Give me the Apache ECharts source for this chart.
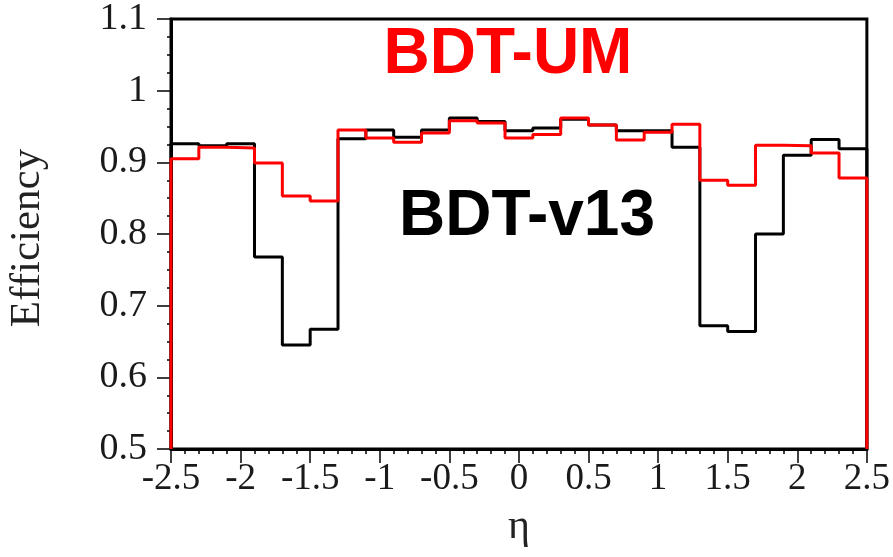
<!DOCTYPE html>
<html>
<head>
<meta charset="utf-8">
<script src="https://cdn.jsdelivr.net/npm/echarts@6/dist/echarts.min.js"></script>
<style>
  html, body { margin: 0; padding: 0; background: #fff; }
  #chart { width: 893px; height: 557px; }
</style>
</head>
<body>
<div id="chart"></div>
<script>
// Bin edges in eta (25 bins of width 0.2)
const etaEdges = [-2.5, -2.3, -2.1, -1.9, -1.7, -1.5, -1.3, -1.1, -0.9, -0.7, -0.5, -0.3, -0.1,
                  0.1, 0.3, 0.5, 0.7, 0.9, 1.1, 1.3, 1.5, 1.7, 1.9, 2.1, 2.3, 2.5];

// Efficiency per bin
const effV13 = [0.926, 0.923, 0.926, 0.768, 0.645, 0.667, 0.933, 0.945, 0.935, 0.945, 0.962, 0.957, 0.944,
                0.948, 0.960, 0.952, 0.944, 0.944, 0.921, 0.672, 0.664, 0.800, 0.910, 0.932, 0.919];
const effUM  = [0.905, 0.921, 0.920, 0.899, 0.853, 0.846, 0.945, 0.934, 0.928, 0.941, 0.958, 0.955, 0.934,
                0.939, 0.962, 0.952, 0.931, 0.942, 0.953, 0.875, 0.868, 0.924, 0.923, 0.913, 0.878];

const xTicks = [-2.5, -2, -1.5, -1, -0.5, 0, 0.5, 1, 1.5, 2, 2.5];
const yTicks = [0.5, 0.6, 0.7, 0.8, 0.9, 1, 1.1];
const yFloor = 0.5;

// Turn bin contents into a closed step outline that starts and ends on the axis floor
function histOutline(values) {
  const pts = [[etaEdges[0], yFloor]];
  values.forEach((v, i) => pts.push([etaEdges[i], v]));
  pts.push([etaEdges[etaEdges.length - 1], values[values.length - 1]]);
  pts.push([etaEdges[etaEdges.length - 1], yFloor]);
  return pts;
}

function fmt(v) {
  return String(v);
}

const chart = echarts.init(document.getElementById('chart'), null, { renderer: 'canvas' });

const serif = '"Liberation Serif", "DejaVu Serif", serif';
const sans = '"Liberation Sans", Arial, sans-serif';

chart.setOption({
  animation: false,
  backgroundColor: '#fff',
  grid: {
    left: 171, right: 22, top: 19, bottom: 108,
    show: true, borderColor: '#000', borderWidth: 3, backgroundColor: 'transparent'
  },
  xAxis: {
    type: 'value',
    min: xTicks[0], max: xTicks[xTicks.length - 1], interval: 0.5,
    axisLine: { show: true, onZero: false, lineStyle: { color: '#000', width: 3 } },
    axisTick: { show: true, inside: false, length: 14, lineStyle: { color: '#000', width: 1.5 } },
    minorTick: { show: true, splitNumber: 5, length: 5, lineStyle: { color: '#000', width: 1.5 } },
    splitLine: { show: false },
    axisLabel: {
      margin: 12, fontFamily: serif, fontSize: 37, color: '#1a1a1a',
      formatter: fmt, showMinLabel: true, showMaxLabel: true
    }
  },
  yAxis: {
    type: 'value',
    min: yTicks[0], max: yTicks[yTicks.length - 1], interval: 0.1,
    axisLine: { show: true, onZero: false, lineStyle: { color: '#000', width: 3 } },
    axisTick: { show: true, inside: false, length: 14, lineStyle: { color: '#000', width: 1.5 } },
    minorTick: { show: true, splitNumber: 4, length: 4, lineStyle: { color: '#000', width: 1.5 } },
    splitLine: { show: false },
    axisLabel: {
      margin: 24, fontFamily: serif, fontSize: 38, color: '#1a1a1a',
      formatter: v => fmt(Math.round(v * 10) / 10)
    }
  },
  graphic: [
    {
      type: 'text', x: 28, y: 238, rotation: Math.PI / 2,
      style: {
        text: 'Efficiency', fontFamily: serif, fontSize: 43, fill: '#222',
        align: 'center', verticalAlign: 'middle'
      }
    },
    {
      type: 'text', x: 519, y: 527,
      style: {
        text: 'η', fontFamily: serif, fontSize: 42, fill: '#222',
        align: 'center', verticalAlign: 'middle'
      }
    },
    {
      type: 'text', x: 508, y: 55, z: 10,
      style: {
        text: 'BDT-UM', fontFamily: sans, fontWeight: 'bold', fontSize: 64, fill: '#ff0000',
        align: 'center', verticalAlign: 'middle'
      }
    },
    {
      type: 'text', x: 527, y: 217, z: 10,
      style: {
        text: 'BDT-v13', fontFamily: sans, fontWeight: 'bold', fontSize: 64, fill: '#000',
        align: 'center', verticalAlign: 'middle'
      }
    }
  ],
  series: [
    {
      name: 'BDT-v13', type: 'line', step: 'end', data: histOutline(effV13),
      showSymbol: false, symbol: 'none', z: 3,
      lineStyle: { color: '#000', width: 3 }
    },
    {
      name: 'BDT-UM', type: 'line', step: 'end', data: histOutline(effUM),
      showSymbol: false, symbol: 'none', z: 4,
      lineStyle: { color: '#ff0000', width: 3 }
    }
  ]
});
</script>
</body>
</html>
